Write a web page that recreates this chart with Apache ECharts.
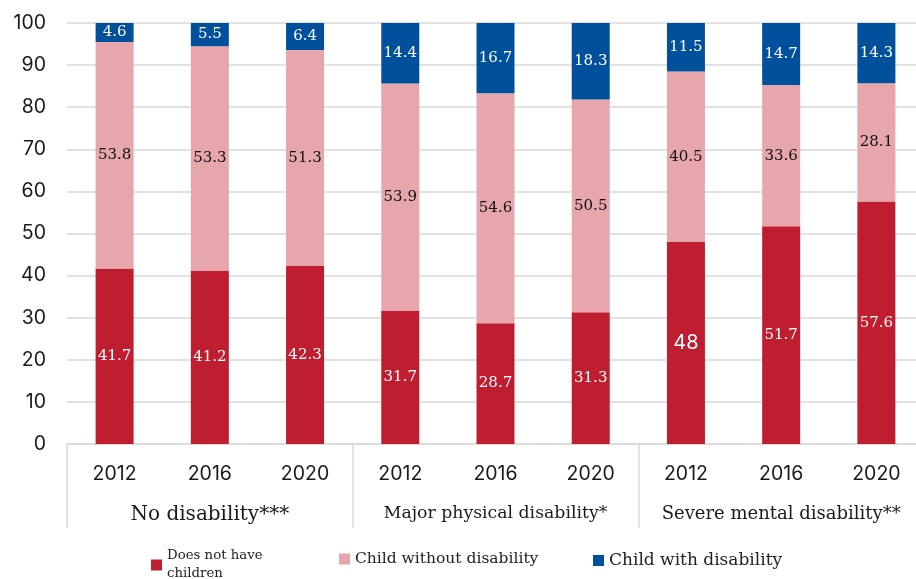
<!DOCTYPE html>
<html>
<head>
<meta charset="utf-8">
<script src="https://cdn.jsdelivr.net/npm/echarts@6/dist/echarts.min.js"></script>
<style>
  html, body { margin: 0; padding: 0; background: #fff; }
  #chart { width: 916px; height: 579px; }
</style>
</head>
<body>
<div id="chart"></div>
<script>
// Survey years within each disability group
const years = ['2012', '2016', '2020', '2012', '2016', '2020', '2012', '2016', '2020'];
// Disability groups (three years each)
const groups = ['No disability***', 'Major physical disability*', 'Severe mental disability**'];
// Shares (%) by household situation
const noChildren = [41.7, 41.2, 42.3, 31.7, 28.7, 31.3, 48, 51.7, 57.6];
const childWithout = [53.8, 53.3, 51.3, 53.9, 54.6, 50.5, 40.5, 33.6, 28.1];
const childWith = [4.6, 5.5, 6.4, 14.4, 16.7, 18.3, 11.5, 14.7, 14.3];
// Y-axis ticks
const yTicks = [0, 10, 20, 30, 40, 50, 60, 70, 80, 90, 100];

const seriesNames = ['Does not have children', 'Child without disability', 'Child with disability'];
const colors = ['#BE1E2F', '#E6A6AB', '#00509B'];
const labelColors = ['#ffffff', '#111111', '#ffffff'];
const SERIF = '"DejaVu Serif", serif';
const SANS = 'Inter, "Noto Sans", sans-serif';

// Whole-number labels use the larger sans face
function labelFor(value, color) {
  const whole = Number.isInteger(value);
  return {
    show: true,
    position: 'inside',
    color: color,
    fontFamily: whole ? SANS : SERIF,
    fontSize: whole ? 20 : 15
  };
}

function buildSeries(name, values, idx) {
  return {
    name: name,
    type: 'bar',
    stack: 'total',
    barWidth: 38,
    itemStyle: { color: colors[idx] },
    emphasis: { disabled: true },
    data: values.map(v => ({ value: v, label: labelFor(v, labelColors[idx]) }))
  };
}

const legendBase = {
  orient: 'horizontal',
  icon: 'rect',
  itemWidth: 11,
  itemHeight: 11,
  itemGap: 6,
  padding: 0,
  selectedMode: false
};

const chart = echarts.init(document.getElementById('chart'), null, { renderer: 'canvas' });
chart.setOption({
  animation: false,
  backgroundColor: '#ffffff',
  grid: { left: 67, top: 23, right: -8, height: 421, containLabel: false, outerBoundsMode: 'none' },
  legend: [
    Object.assign({}, legendBase, {
      data: [seriesNames[0]], left: 151, top: 543,
      formatter: () => 'Does not have\nchildren',
      textStyle: { fontFamily: SERIF, fontSize: 13.3, color: '#222', lineHeight: 18, padding: [8, 0, 0, 0] }
    }),
    Object.assign({}, legendBase, {
      data: [seriesNames[1]], left: 339, top: 551,
      textStyle: { fontFamily: SERIF, fontSize: 15.5, color: '#222', padding: [0, 0, 5, 0] }
    }),
    Object.assign({}, legendBase, {
      data: [seriesNames[2]], left: 593, top: 552,
      textStyle: { fontFamily: SERIF, fontSize: 17, color: '#222', padding: [0, 0, 2, 0] }
    })
  ],
  xAxis: [
    {
      type: 'category',
      data: years,
      position: 'bottom',
      axisLine: { show: true, lineStyle: { color: '#d9d9d9', width: 1.5 } },
      axisTick: { show: false },
      axisLabel: { interval: 0, margin: 20, fontFamily: SANS, fontSize: 19.5, color: '#1a1a1a' },
      splitLine: { show: false }
    },
    {
      type: 'category',
      data: groups,
      position: 'bottom',
      axisLine: { show: false },
      axisTick: { show: true, length: 84, lineStyle: { color: '#d9d9d9', width: 1.5 } },
      axisLabel: {
        interval: 0,
        margin: 61,
        fontFamily: SERIF,
        color: '#1a1a1a',
        formatter: (v, i) => '{g' + i + '|' + v + '}',
        rich: {
          g0: { fontFamily: SERIF, fontSize: 20, color: '#1a1a1a' },
          g1: { fontFamily: SERIF, fontSize: 17.3, color: '#1a1a1a' },
          g2: { fontFamily: SERIF, fontSize: 18, color: '#1a1a1a' }
        }
      },
      splitLine: { show: false }
    }
  ],
  yAxis: {
    type: 'value',
    min: yTicks[0],
    max: yTicks[yTicks.length - 1],
    interval: yTicks[1] - yTicks[0],
    axisLine: { show: false },
    axisTick: { show: false },
    axisLabel: { margin: 21, fontFamily: SANS, fontSize: 19.5, color: '#1a1a1a' },
    splitLine: { show: true, lineStyle: { color: '#d9d9d9', width: 1.5 } }
  },
  series: [
    buildSeries(seriesNames[0], noChildren, 0),
    buildSeries(seriesNames[1], childWithout, 1),
    buildSeries(seriesNames[2], childWith, 2)
  ]
});
</script>
</body>
</html>
